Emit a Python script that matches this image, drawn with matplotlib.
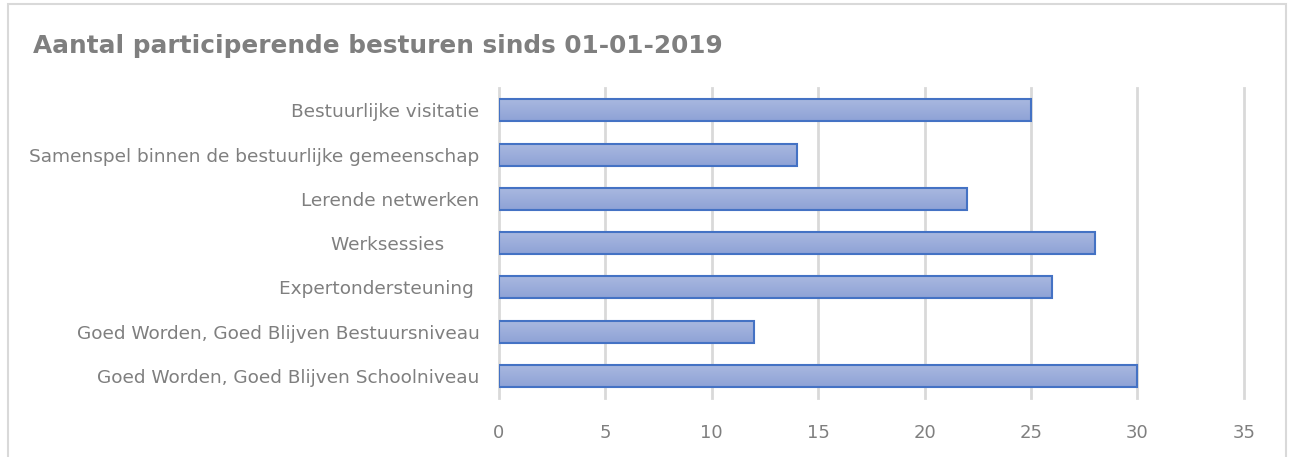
import numpy as np
import matplotlib.pyplot as plt
from matplotlib.patches import Rectangle
from matplotlib.colors import LinearSegmentedColormap

plt.rcParams['font.family'] = ['DejaVu Sans']

categories = ['Bestuurlijke visitatie',
              'Samenspel binnen de bestuurlijke gemeenschap',
              'Lerende netwerken',
              'Werksessies      ',
              'Expertondersteuning ',
              'Goed Worden, Goed Blijven Bestuursniveau',
              'Goed Worden, Goed Blijven Schoolniveau']
values = [25, 14, 22, 28, 26, 12, 30]
xticks = [0, 5, 10, 15, 20, 25, 30, 35]

fig = plt.figure(figsize=(12.89, 4.57), dpi=100)
ax = fig.add_axes([0.387, 0.129, 0.578, 0.678])

# outer chart border
fig.patches.append(Rectangle((8 / 1289, -0.01), 1278 / 1289, 1 - 4 / 457 + 0.01,
                             transform=fig.transFigure, fill=False,
                             edgecolor='#d9d9d9', linewidth=1.5))

y = np.arange(len(categories))[::-1]
bars = ax.barh(y, values, height=0.5, color='none', edgecolor='#4472c4',
               linewidth=1.5, zorder=3)

# gradient fill inside each bar
cmap = LinearSegmentedColormap.from_list('g', ['#8ea2d6', '#aab9e0'])
grad = np.linspace(0, 1, 100).reshape(-1, 1)
for b in bars:
    x0, y0 = b.get_x(), b.get_y()
    w, h = b.get_width(), b.get_height()
    im = ax.imshow(grad, cmap=cmap, extent=(x0, x0 + w, y0, y0 + h),
                   origin='lower', aspect='auto', zorder=2)
    im.set_clip_path(b)

ax.set_xlim(0, 35)
ax.set_ylim(-0.5, len(categories) - 0.5)
ax.set_yticks(y)
ax.set_yticklabels(categories)
ax.set_xticks(xticks)
ax.tick_params(axis='both', length=0, labelsize=13.3, labelcolor='#7f7f7f')
ax.tick_params(axis='x', labelsize=13)
ax.tick_params(axis='y', pad=14)
ax.tick_params(axis='x', pad=19)
for xv in xticks:
    ax.axvline(xv, color='#d9d9d9', linewidth=2, zorder=0, clip_on=False)
for s in ax.spines.values():
    s.set_visible(False)

fig.text(33 / 1289, 1 - 46 / 457, 'Aantal participerende besturen sinds 01-01-2019',
         fontsize=17.8, fontweight='bold', color='#7f7f7f', va='center', ha='left')

fig.savefig('out.png', dpi=100)
